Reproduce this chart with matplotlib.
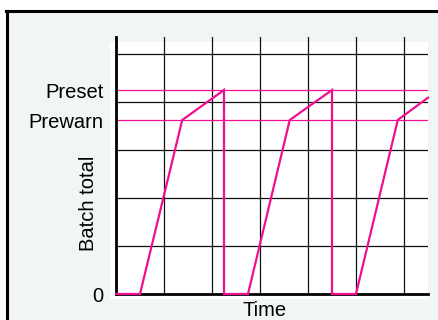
import matplotlib
matplotlib.use("Agg")
import matplotlib.pyplot as plt
from matplotlib.patches import Rectangle
from matplotlib.lines import Line2D

plt.rcParams['font.family'] = ['Liberation Sans', 'DejaVu Sans']

# Batch cycle: idle, fast fill to prewarn, slow dribble to preset, discharge
time_pts = [0, 0.5, 1.38, 2.25, 2.25, 2.75, 3.62, 4.5, 4.5, 5.0, 5.87, 6.5]
batch_pts = [0, 0, 3.625, 4.25, 0, 0, 3.625, 4.25, 0, 0, 3.625, 4.09]
preset = 4.25
prewarn = 3.625
level_labels = ["0", "Prewarn", "Preset"]
level_values = [0, prewarn, preset]

W, H = 439, 320
fig = plt.figure(figsize=(W / 100, H / 100), dpi=100)
fig.patch.set_facecolor('white')

def px(x, y):
    return x / W, 1 - y / H

pink = '#f0108f'
mint = '#f1f6f4'

# panel background with border on left and top
fig.add_artist(Rectangle(px(7, 320), (W - 7) / W, (320 - 10.5) / H,
                         transform=fig.transFigure, facecolor=mint,
                         edgecolor='none', zorder=0))
fig.add_artist(Line2D([7 / W, 7 / W], [0, 1 - 10.5 / H], transform=fig.transFigure,
                      color='black', lw=2.2, zorder=1))
fig.add_artist(Line2D([6 / W, 1], [1 - 10.5 / H, 1 - 10.5 / H], transform=fig.transFigure,
                      color='black', lw=2.2, zorder=1))
# white plotting area
fig.add_artist(Rectangle(px(110, 299), (428 - 110) / W, (299 - 42) / H,
                         transform=fig.transFigure, facecolor='white',
                         edgecolor='none', zorder=0.5))

left, bottom = px(116, 294)
right, top = px(428, 37)
ax = fig.add_axes([left, bottom, right - left, top - bottom])
ax.set_zorder(2)
ax.set_facecolor('none')
ax.set_xlim(0, 6.5)
ax.set_ylim(0, 257 / 48)

for s in ['top', 'right']:
    ax.spines[s].set_visible(False)
for s in ['left', 'bottom']:
    ax.spines[s].set_linewidth(2.0)
    ax.spines[s].set_color('black')
    ax.spines[s].set_zorder(3)

for xv in range(1, 7):
    ax.axvline(xv, color='#111111', lw=0.9, zorder=1)
for yv in range(1, 6):
    ax.axhline(yv, color='#111111', lw=0.9, zorder=1)

ax.axhline(preset, color=pink, lw=0.9, zorder=2)
ax.axhline(prewarn, color=pink, lw=0.9, zorder=2)

ax.plot(time_pts, batch_pts, color=pink, lw=1.6, zorder=4, clip_on=False,
        solid_joinstyle='miter')

ax.set_xticks([])
ax.set_yticks(level_values)
ax.set_yticklabels(level_labels, fontsize=14.5)
ax.tick_params(axis='y', length=0, pad=9)

fig.text(*px(89, 203), "Batch total", rotation=90, fontsize=14.5,
         ha='center', va='center')
fig.text(*px(265, 315.5), "Time", fontsize=14.5, ha='center', va='baseline')

fig.savefig('out.png', dpi=100)
